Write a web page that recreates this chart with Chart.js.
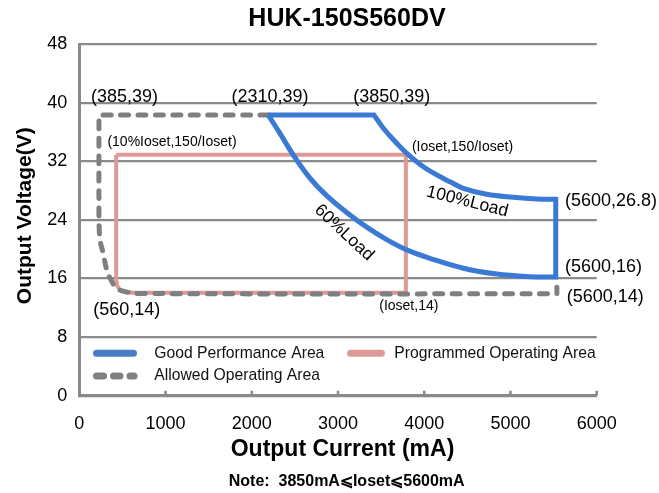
<!DOCTYPE html>
<html><head><meta charset="utf-8">
<script src="https://cdn.jsdelivr.net/npm/chart.js@4.4.0/dist/chart.umd.min.js"></script>
<style>html,body{margin:0;padding:0;background:#fff}#wrap{width:659px;height:493px}</style>
</head><body><div id="wrap"><canvas id="c" width="659" height="493"></canvas></div>
<script>
// ---- data ----
const xTicks = [0, 1000, 2000, 3000, 4000, 5000, 6000];
const yTicks = [0, 8, 16, 24, 32, 40, 48];

// Good Performance Area (closed outline: top edge, 100% load curve, right edge, 60% load curve)
// corner points are listed twice so the smoothed curve keeps sharp corners
const goodX = [2192, 3418, 3418, 3526, 3681, 3797, 3989, 4183, 4299, 4453, 4725, 5033, 5305, 5525, 5525,
               5525, 5525, 5227, 4840, 4453, 4067, 3797, 3565, 3333, 3101, 2869, 2675, 2482, 2327, 2192];
const goodY = [38.3, 38.3, 38.3, 36.5, 34.45, 33.08, 31.25, 29.89, 29.2, 28.31, 27.49, 27.08, 26.85, 26.8, 26.8,
               16.2, 16.2, 16.25, 16.6, 17.4, 18.75, 19.9, 21.3, 23.0, 25.0, 27.3, 29.7, 32.85, 35.8, 38.3];

// Allowed Operating Area (dashed)
const allowX = [2192, 228, 228, 228, 232, 240, 278, 318, 376, 434, 530, 700, 5538, 5538, 5538];
const allowY = [38.3, 38.3, 38.3, 24.0, 22.5, 21.2, 19.4, 17.2, 15.6, 14.66, 14.2, 13.95, 13.9, 13.9, 14.8];

// Programmed Operating Area
const progX = [428, 3787, 3787, 620, 520, 470, 440, 428, 428];
const progY = [32.9, 32.9, 14.05, 14.05, 14.2, 14.45, 15.0, 15.8, 32.9];

const seriesNames = ['Good Performance Area', 'Programmed Operating Area', 'Allowed Operating Area'];
const titleText = 'HUK-150S560DV';
const xTitle = 'Output Current (mA)';
const yTitle = 'Output Voltage(V)';
const noteText = 'Note:  3850mA\u2A7DIoset\u2A7D5600mA';
const pointLabels = ['(385,39)', '(2310,39)', '(3850,39)', '(10%Ioset,150/Ioset)', '(Ioset,150/Ioset)',
                     '(5600,26.8)', '(5600,16)', '(5600,14)', '(Ioset,14)', '(560,14)', '100%Load', '60%Load'];

// ---- styles / layout ----
const FONT = '"Liberation Sans", Arial, Helvetica, sans-serif';
const GRID = '#8a8a8a';
const BLUE = '#3a7ad4', RED = '#de9896', GRAY = '#7f7f7f';
const LBLUE = '#4a7ec4', LRED = '#de9a98', LGRAY = '#808080';

const labelLayout = [
  {x: 124.5, y: 96.7, size: 18, align: 'center'},
  {x: 270, y: 96.7, size: 18, align: 'center'},
  {x: 391.7, y: 96.7, size: 18, align: 'center'},
  {x: 172, y: 141.7, size: 14, align: 'center'},
  {x: 462.5, y: 146.7, size: 14, align: 'center'},
  {x: 565, y: 200.7, size: 18, align: 'left'},
  {x: 565, y: 267.3, size: 18, align: 'left'},
  {x: 566.7, y: 296.7, size: 18, align: 'left'},
  {x: 408.8, y: 306, size: 14, align: 'center'},
  {x: 126.7, y: 310, size: 18, align: 'center'},
  {x: 467.3, y: 201.7, size: 17.5, align: 'center', rot: 14},
  {x: 344, y: 232.7, size: 17.5, align: 'center', rot: 43}
];

const pts = (xs, ys) => xs.map((x, i) => ({x, y: ys[i]}));

const overlay = {
  id: 'overlay',
  afterDraw(chart) {
    const ctx = chart.ctx;
    const {bottom} = chart.chartArea;
    const xs = chart.scales.x;
    ctx.save();
    // inward tick marks on x axis
    ctx.strokeStyle = GRID; ctx.lineWidth = 2.5;
    xTicks.forEach(v => {
      if (v === 0) return;
      const px = xs.getPixelForValue(v);
      ctx.beginPath(); ctx.moveTo(px, bottom); ctx.lineTo(px, bottom - 5); ctx.stroke();
    });
    const txt = (s, x, y, font, align, rot, color) => {
      ctx.save();
      ctx.translate(x, y);
      if (rot) ctx.rotate(rot * Math.PI / 180);
      ctx.font = font; ctx.fillStyle = color || '#000';
      ctx.textAlign = align || 'center'; ctx.textBaseline = 'middle';
      ctx.fillText(s, 0, 0);
      ctx.restore();
    };
    // titles
    txt(titleText, 347, 19, 'bold 25px ' + FONT, 'center');
    txt(xTitle, 342.5, 450, 'bold 23px ' + FONT, 'center');
    txt(yTitle, 25, 215.7, 'bold 21px ' + FONT, 'center', -90);
    txt(noteText, 346.7, 481.7, 'bold 16px ' + FONT, 'center');
    // point labels
    pointLabels.forEach((s, i) => {
      const L = labelLayout[i];
      txt(s, L.x, L.y, L.size + 'px ' + FONT, L.align, L.rot || 0, '#000');
    });
    // legend
    ctx.lineCap = 'round';
    ctx.lineWidth = 7;
    ctx.strokeStyle = LBLUE;
    ctx.beginPath(); ctx.moveTo(96.5, 353.3); ctx.lineTo(133.5, 353.3); ctx.stroke();
    ctx.strokeStyle = LRED;
    ctx.beginPath(); ctx.moveTo(350.5, 353.3); ctx.lineTo(381.5, 353.3); ctx.stroke();
    ctx.strokeStyle = LGRAY;
    [[96.5, 103.5], [113.5, 120], [130, 134]].forEach(([a, b]) => {
      ctx.beginPath(); ctx.moveTo(a, 376); ctx.lineTo(b, 376); ctx.stroke();
    });
    txt(seriesNames[0], 154.3, 353.3, '15.7px ' + FONT, 'left', 0, '#111');
    txt(seriesNames[1], 394.3, 353.3, '15.7px ' + FONT, 'left', 0, '#111');
    txt(seriesNames[2], 154.3, 376, '15.7px ' + FONT, 'left', 0, '#111');
    ctx.restore();
  }
};

new Chart(document.getElementById('c'), {
  type: 'scatter',
  data: {
    datasets: [
      {label: seriesNames[0], data: pts(goodX, goodY), showLine: true, borderColor: BLUE, borderWidth: 5,
       pointRadius: 0, tension: 0.4, borderJoinStyle: 'miter', fill: false},
      {label: seriesNames[2], data: pts(allowX, allowY), showLine: true, borderColor: GRAY, borderWidth: 5,
       borderDash: [8, 9.5], borderCapStyle: 'round', pointRadius: 0, tension: 0.4, fill: false},
      {label: seriesNames[1], data: pts(progX, progY), showLine: true, borderColor: RED, borderWidth: 4,
       pointRadius: 0, tension: 0, borderJoinStyle: 'miter', fill: false}
    ]
  },
  options: {
    responsive: false,
    animation: false,
    events: [],
    layout: {padding: {left: 0, right: 62.3, top: 44, bottom: 47.3}},
    plugins: {legend: {display: false}, tooltip: {enabled: false}, title: {display: false}},
    scales: {
      x: {
        type: 'linear', min: 0, max: 6000,
        afterBuildTicks: s => { s.ticks = xTicks.map(v => ({value: v})); },
        afterFit: s => { s.height = 50; },
        grid: {display: true, drawOnChartArea: false, drawTicks: false},
        border: {display: true, color: GRID, width: 3},
        ticks: {padding: 18, color: '#000', font: {family: FONT, size: 18}, callback: v => String(v)}
      },
      y: {
        type: 'linear', min: 0, max: 48,
        afterBuildTicks: s => { s.ticks = yTicks.map(v => ({value: v})); },
        afterFit: s => { s.width = 79.3; },
        grid: {color: GRID, lineWidth: 2.2, drawTicks: false},
        border: {display: true, color: GRID, width: 3},
        ticks: {padding: 12, color: '#000', font: {family: FONT, size: 18}, callback: v => String(v)}
      }
    }
  },
  plugins: [overlay]
});
</script>
</body></html>
